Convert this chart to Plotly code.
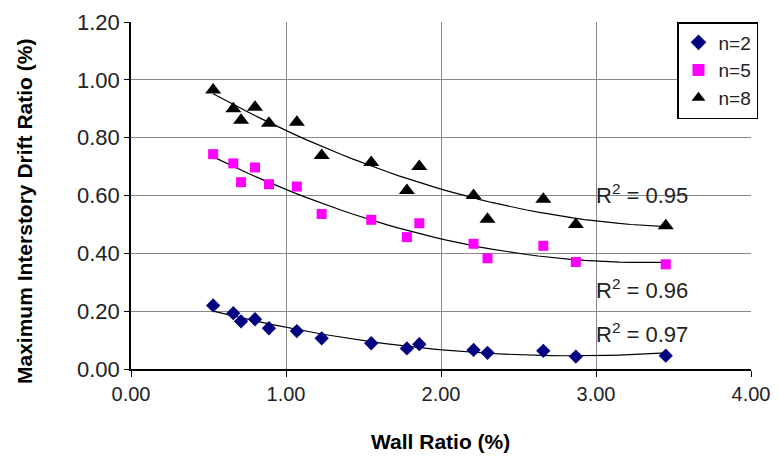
import numpy as np
import plotly.graph_objects as go

wall_ratio = [0.53, 0.66, 0.71, 0.80, 0.89, 1.07, 1.23, 1.55, 1.78, 1.86, 2.21, 2.30, 2.66, 2.87, 3.45]
drift_n2 = [0.22, 0.193, 0.165, 0.172, 0.141, 0.131, 0.106, 0.089, 0.071, 0.086, 0.066, 0.056, 0.063, 0.043, 0.046]
drift_n5 = [0.743, 0.711, 0.646, 0.697, 0.639, 0.631, 0.536, 0.516, 0.456, 0.504, 0.433, 0.383, 0.426, 0.370, 0.362]
drift_n8 = [0.965, 0.90, 0.86, 0.905, 0.85, 0.853, 0.738, 0.714, 0.617, 0.70, 0.60, 0.518, 0.587, 0.50, 0.495]
r2_labels = ["R<sup>2</sup> = 0.97", "R<sup>2</sup> = 0.96", "R<sup>2</sup> = 0.95"]
series_names = ["n=2", "n=5", "n=8"]
x_ticks = ["0.00", "1.00", "2.00", "3.00", "4.00"]
y_ticks = ["0.00", "0.20", "0.40", "0.60", "0.80", "1.00", "1.20"]
x_title = "Wall Ratio (%)"
y_title = "Maximum Interstory Drift Ratio (%)"

FONT = "Liberation Sans, Arial"
OFF = 8  # default page body margin
W, H = 779 - OFF, 468 - 2 * OFF
# target plot-area edges in page pixels
PL, PR, PT, PB = 131, 751, 22, 369
ML, MR, MT, MB = PL - OFF, (W + OFF) - PR, PT - OFF, (H + OFF) - PB
PW, PH = PR - PL, PB - PT


def px2paper_x(px):
    return (px - PL) / PW


def px2paper_y(py):
    return (PB - py) / PH


fig = go.Figure()
x = np.array(wall_ratio)
xs = np.linspace(x.min(), x.max(), 40)

# trendlines (2nd-order polynomial fits)
for ys in [drift_n2, drift_n5, drift_n8]:
    c = np.polyfit(x, np.array(ys), 2)
    fig.add_trace(go.Scatter(x=xs, y=np.polyval(c, xs), mode="lines",
                             line=dict(color="black", width=1.2), showlegend=False,
                             hoverinfo="skip"))

styles = [("diamond", "#000080", 11), ("square", "#FF00FF", 10), ("triangle-up", "black", 14)]
for name, ys, (sym, col, sz) in zip(series_names, [drift_n2, drift_n5, drift_n8], styles):
    fig.add_trace(go.Scatter(x=wall_ratio, y=ys, mode="markers", name=name,
                             marker=dict(symbol=sym, color=col, size=sz, line=dict(width=0))))

ann_pos = [(2.99, 0.125), (2.99, 0.275), (2.99, 0.605)]
for (ax_, ay_), t in zip(ann_pos, r2_labels):
    fig.add_annotation(x=ax_, y=ay_, text=t, showarrow=False, xanchor="left", yanchor="middle",
                       font=dict(family=FONT, size=22, color="#222"))

# axis titles as annotations for exact placement
fig.add_annotation(xref="paper", yref="paper", x=px2paper_x(24), y=px2paper_y(212),
                   text="<b>" + y_title + "</b>", textangle=-90, showarrow=False,
                   xanchor="center", yanchor="middle",
                   font=dict(family=FONT, size=21, color="black"))
fig.add_annotation(xref="paper", yref="paper", x=px2paper_x(440), y=px2paper_y(441),
                   text="<b>" + x_title + "</b>", showarrow=False,
                   xanchor="center", yanchor="middle",
                   font=dict(family=FONT, size=21, color="black"))

fig.update_layout(
    width=W, height=H,
    margin=dict(l=ML, r=MR, t=MT, b=MB),
    paper_bgcolor="white", plot_bgcolor="white",
    font=dict(family=FONT, size=20, color="black"),
    legend=dict(x=px2paper_x(677), y=px2paper_y(22), xanchor="left", yanchor="top",
                bordercolor="black", borderwidth=1.5, bgcolor="white",
                font=dict(family=FONT, size=19, color="#222"), itemsizing="constant",
                itemwidth=30),
    xaxis=dict(range=[0, 4], tickvals=[0, 1, 2, 3, 4], ticktext=x_ticks, automargin=False,
               tickfont=dict(family=FONT, size=20, color="#222"), ticklabeloverflow="allow",
               showgrid=True, gridcolor="#888", gridwidth=1.2,
               showline=True, linecolor="black", linewidth=1.5,
               ticks="outside", ticklen=6, tickcolor="black", zeroline=False),
    yaxis=dict(range=[0, 1.2], tickvals=[0, 0.2, 0.4, 0.6, 0.8, 1.0, 1.2], ticktext=y_ticks,
               automargin=False,
               tickfont=dict(family=FONT, size=22, color="#222"),
               showgrid=True, gridcolor="#888", gridwidth=1.2,
               showline=True, linecolor="black", linewidth=1.5,
               ticks="outside", ticklen=5, tickcolor="black", zeroline=False),
)
fig.write_html("out.html")
